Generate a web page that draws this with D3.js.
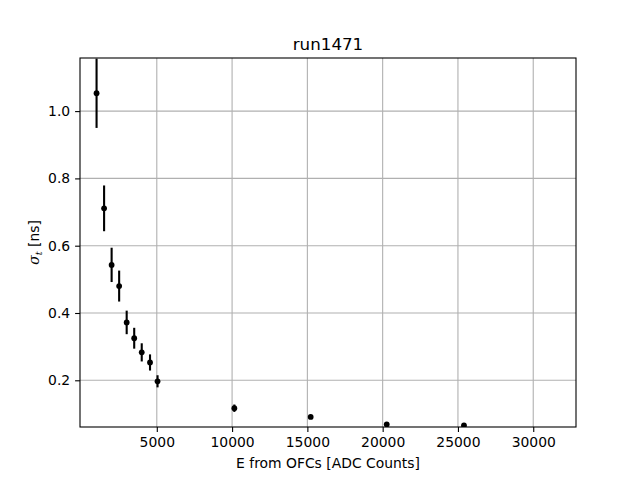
<!DOCTYPE html>
<html>
<head>
<meta charset="utf-8">
<script src="https://cdn.jsdelivr.net/npm/d3@7"></script>
<style>
    body { margin: 0; background: #fff; }
    svg { font-family: "DejaVu Sans", sans-serif; }
</style>
</head>
<body>
<svg id="chart"></svg>
<script>
/////////////// data ////////////////
const ENERGY = [1000, 1500, 2000, 2500, 3000, 3500, 4000, 4550, 5050, 10150, 15220, 20270, 25400];
const SIGMA_T = [1.053, 0.711, 0.543, 0.480, 0.372, 0.325, 0.283, 0.253, 0.197, 0.117, 0.091, 0.069, 0.066];
const SIGMA_ERR = [0.103, 0.068, 0.051, 0.046, 0.035, 0.031, 0.027, 0.024, 0.018, 0.011, 0.005, 0.003, 0.003];
const X_TICKS = [5000, 10000, 15000, 20000, 25000, 30000];
const Y_TICKS = [0.2, 0.4, 0.6, 0.8, 1.0];
const TITLE = "run1471";
const X_LABEL = "E from OFCs [ADC Counts]";

/////////////// layout ////////////////
const W = 640;
const H = 480;
const AX_L = 80;
const AX_R = 576;
const AX_T = 58;
const AX_B = 427;
const TICK_LEN = 4.9;
const FONT_SZ = 13.9;

const SVG = d3.select("#chart")
    .attr("width", W)
    .attr("height", H);

const SCL_X = d3.scaleLinear()
    .domain([-100, 32840])
    .range([AX_L, AX_R]);
const SCL_Y = d3.scaleLinear()
    .domain([0.0612, 1.1578])
    .range([AX_B, AX_T]);

SVG.append("defs").append("clipPath")
    .attr("id", "axClip")
    .append("rect")
    .attr("x", AX_L)
    .attr("y", AX_T)
    .attr("width", AX_R - AX_L)
    .attr("height", AX_B - AX_T);

// grid lines
const GRID_GRP = SVG.append("g").attr("id", "gridGroup");
GRID_GRP.selectAll("line.gx")
    .data(X_TICKS)
    .enter()
    .append("line")
    .attr("class", "gx")
    .attr("x1", d => SCL_X(d))
    .attr("x2", d => SCL_X(d))
    .attr("y1", AX_T)
    .attr("y2", AX_B)
    .attr("stroke", "#b0b0b0")
    .attr("stroke-width", 1.1);
GRID_GRP.selectAll("line.gy")
    .data(Y_TICKS)
    .enter()
    .append("line")
    .attr("class", "gy")
    .attr("x1", AX_L)
    .attr("x2", AX_R)
    .attr("y1", d => SCL_Y(d))
    .attr("y2", d => SCL_Y(d))
    .attr("stroke", "#b0b0b0")
    .attr("stroke-width", 1.1);

// error bars and points
const DATA_GRP = SVG.append("g")
    .attr("id", "dataGroup")
    .attr("clip-path", "url(#axClip)");
const pts = ENERGY.map((e, i) => ({ x: e, y: SIGMA_T[i], err: SIGMA_ERR[i] }));
DATA_GRP.selectAll("line")
    .data(pts)
    .enter()
    .append("line")
    .attr("x1", d => SCL_X(d.x))
    .attr("x2", d => SCL_X(d.x))
    .attr("y1", d => SCL_Y(d.y - d.err))
    .attr("y2", d => SCL_Y(d.y + d.err))
    .attr("stroke", "#000")
    .attr("stroke-width", 2.1);
DATA_GRP.selectAll("circle")
    .data(pts)
    .enter()
    .append("circle")
    .attr("cx", d => SCL_X(d.x))
    .attr("cy", d => SCL_Y(d.y))
    .attr("r", 2.9)
    .attr("fill", "#000");

// axes
const xAxis = d3.axisBottom(SCL_X)
    .tickValues(X_TICKS)
    .tickFormat(d3.format("d"))
    .tickSize(TICK_LEN)
    .tickPadding(4.9);
const yAxis = d3.axisLeft(SCL_Y)
    .tickValues(Y_TICKS)
    .tickFormat(d3.format(".1f"))
    .tickSize(TICK_LEN)
    .tickPadding(4.9);
const X_AX_GRP = SVG.append("g")
    .attr("transform", `translate(0, ${AX_B})`)
    .call(xAxis);
const Y_AX_GRP = SVG.append("g")
    .attr("transform", `translate(${AX_L}, 0)`)
    .call(yAxis);
[X_AX_GRP, Y_AX_GRP].forEach(g => {
    g.select(".domain").remove();
    g.selectAll(".tick line").attr("stroke", "#000").attr("stroke-width", 1.1);
    g.selectAll(".tick text")
        .attr("fill", "#000")
        .style("font-family", "DejaVu Sans")
        .style("font-size", FONT_SZ + "px");
});

// frame
SVG.append("rect")
    .attr("x", AX_L)
    .attr("y", AX_T)
    .attr("width", AX_R - AX_L)
    .attr("height", AX_B - AX_T)
    .attr("fill", "none")
    .attr("stroke", "#000")
    .attr("stroke-width", 1.1);

// title and labels
SVG.append("text")
    .attr("x", (AX_L + AX_R) / 2)
    .attr("y", 50)
    .attr("text-anchor", "middle")
    .style("font-size", "16.7px")
    .text(TITLE);
SVG.append("text")
    .attr("x", (AX_L + AX_R) / 2)
    .attr("y", 468)
    .attr("text-anchor", "middle")
    .style("font-size", FONT_SZ + "px")
    .text(X_LABEL);
const Y_LBL = SVG.append("text")
    .attr("transform", `translate(39, ${(AX_T + AX_B) / 2}) rotate(-90)`)
    .attr("text-anchor", "middle")
    .style("font-size", FONT_SZ + "px");
Y_LBL.append("tspan").style("font-family", "DejaVu Serif").style("font-style", "italic").text("σ");
Y_LBL.append("tspan").attr("dy", 3).style("font-size", "9.7px").style("font-family", "DejaVu Serif").style("font-style", "italic").text("t");
Y_LBL.append("tspan").attr("dy", -3).text(" [ns]");
</script>
</body>
</html>
